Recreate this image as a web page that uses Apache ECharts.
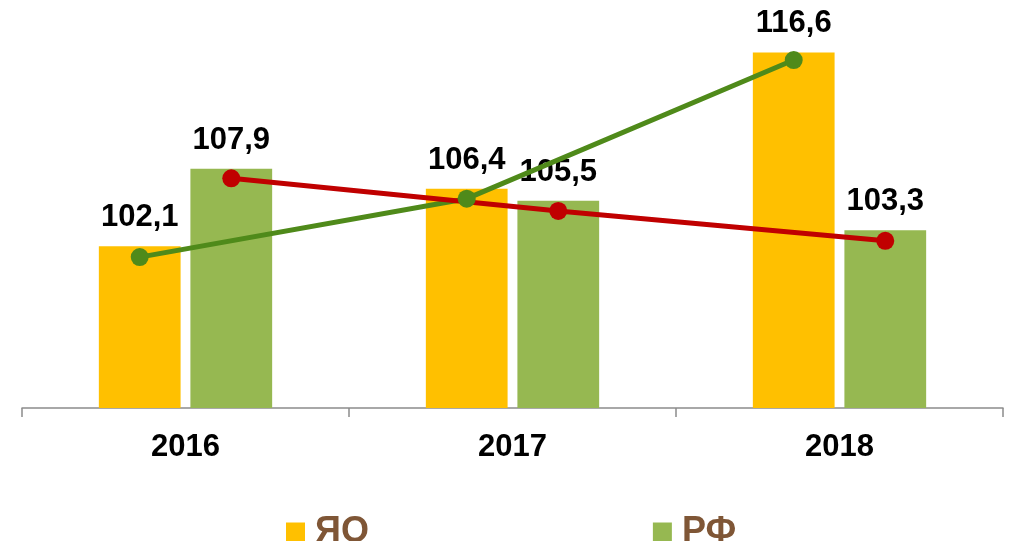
<!DOCTYPE html>
<html>
<head>
<meta charset="utf-8">
<script src="https://cdn.jsdelivr.net/npm/echarts@6/dist/echarts.min.js"></script>
<style>
  html, body { margin: 0; padding: 0; background: #fff; }
  #main { width: 1013px; height: 541px; }
</style>
</head>
<body>
<div id="main"></div>
<script>
var years = ['2016', '2017', '2018'];
var yoValues = [102.1, 106.4, 116.6];
var rfValues = [107.9, 105.5, 103.3];

var barShare = 0.25;   // bar width as part of a category
var barGapShare = 0.12;
// offset of each bar centre from the category centre, in category units
var off = (barShare + barShare * barGapShare) / 2;

function fmt(v) {
    return v.toFixed(1).replace('.', ',');
}

var yoLine = yoValues.map(function (v, i) { return [i + 0.5 - off, v]; });
var rfLine = rfValues.map(function (v, i) { return [i + 0.5 + off, v]; });

var myChart = echarts.init(document.getElementById('main'));

var font = '"Liberation Sans", Arial, sans-serif';

var barLabel = {
    show: true,
    position: 'top',
    distance: 13,
    formatter: function (p) { return fmt(p.value); },
    fontFamily: font,
    fontSize: 31,
    fontWeight: 'bold',
    color: '#000'
};

var option = {
    animation: false,
    textStyle: { fontFamily: font },
    grid: { left: 22, right: 10, top: 7, bottom: 133 },
    legend: {
        data: ['ЯО', 'РФ'],
        left: 281,
        top: 509,
        itemWidth: 19,
        itemHeight: 19,
        itemGap: 284,
        icon: 'rect',
        textStyle: {
            fontFamily: font,
            fontSize: 36,
            fontWeight: 'bold',
            color: '#7F5636',
            padding: [0, 0, 0, 5]
        }
    },
    xAxis: [
        {
            type: 'category',
            data: years,
            axisLine: { lineStyle: { color: '#8c8c8c', width: 1.5 } },
            axisTick: { show: true, length: 9, lineStyle: { color: '#8c8c8c', width: 1.5 } },
            axisLabel: {
                fontFamily: font,
                fontSize: 31,
                fontWeight: 'bold',
                color: '#000',
                margin: 24
            }
        },
        {
            type: 'value',
            min: 0,
            max: 3,
            show: false
        }
    ],
    yAxis: [
        { type: 'value', min: 90, max: 120, show: false },
        { type: 'value', min: 91, max: 120.5, show: false }
    ],
    series: [
        {
            name: 'ЯО',
            type: 'bar',
            data: yoValues,
            barWidth: '25%',
            barGap: '12%',
            itemStyle: { color: '#FFC000' },
            label: barLabel
        },
        {
            name: 'РФ',
            type: 'bar',
            data: rfValues,
            barWidth: '25%',
            barGap: '12%',
            itemStyle: { color: '#96B851' },
            label: barLabel
        },
        {
            name: 'ЯО line',
            type: 'line',
            xAxisIndex: 1,
            yAxisIndex: 1,
            data: yoLine,
            symbol: 'circle',
            symbolSize: 18,
            lineStyle: { color: '#4F8A1A', width: 5 },
            itemStyle: { color: '#4F8A1A' },
            z: 5
        },
        {
            name: 'РФ line',
            type: 'line',
            xAxisIndex: 1,
            yAxisIndex: 1,
            data: rfLine,
            symbol: 'circle',
            symbolSize: 18,
            lineStyle: { color: '#C00000', width: 5 },
            itemStyle: { color: '#C00000' },
            z: 5
        }
    ]
};

myChart.setOption(option);
</script>
</body>
</html>
